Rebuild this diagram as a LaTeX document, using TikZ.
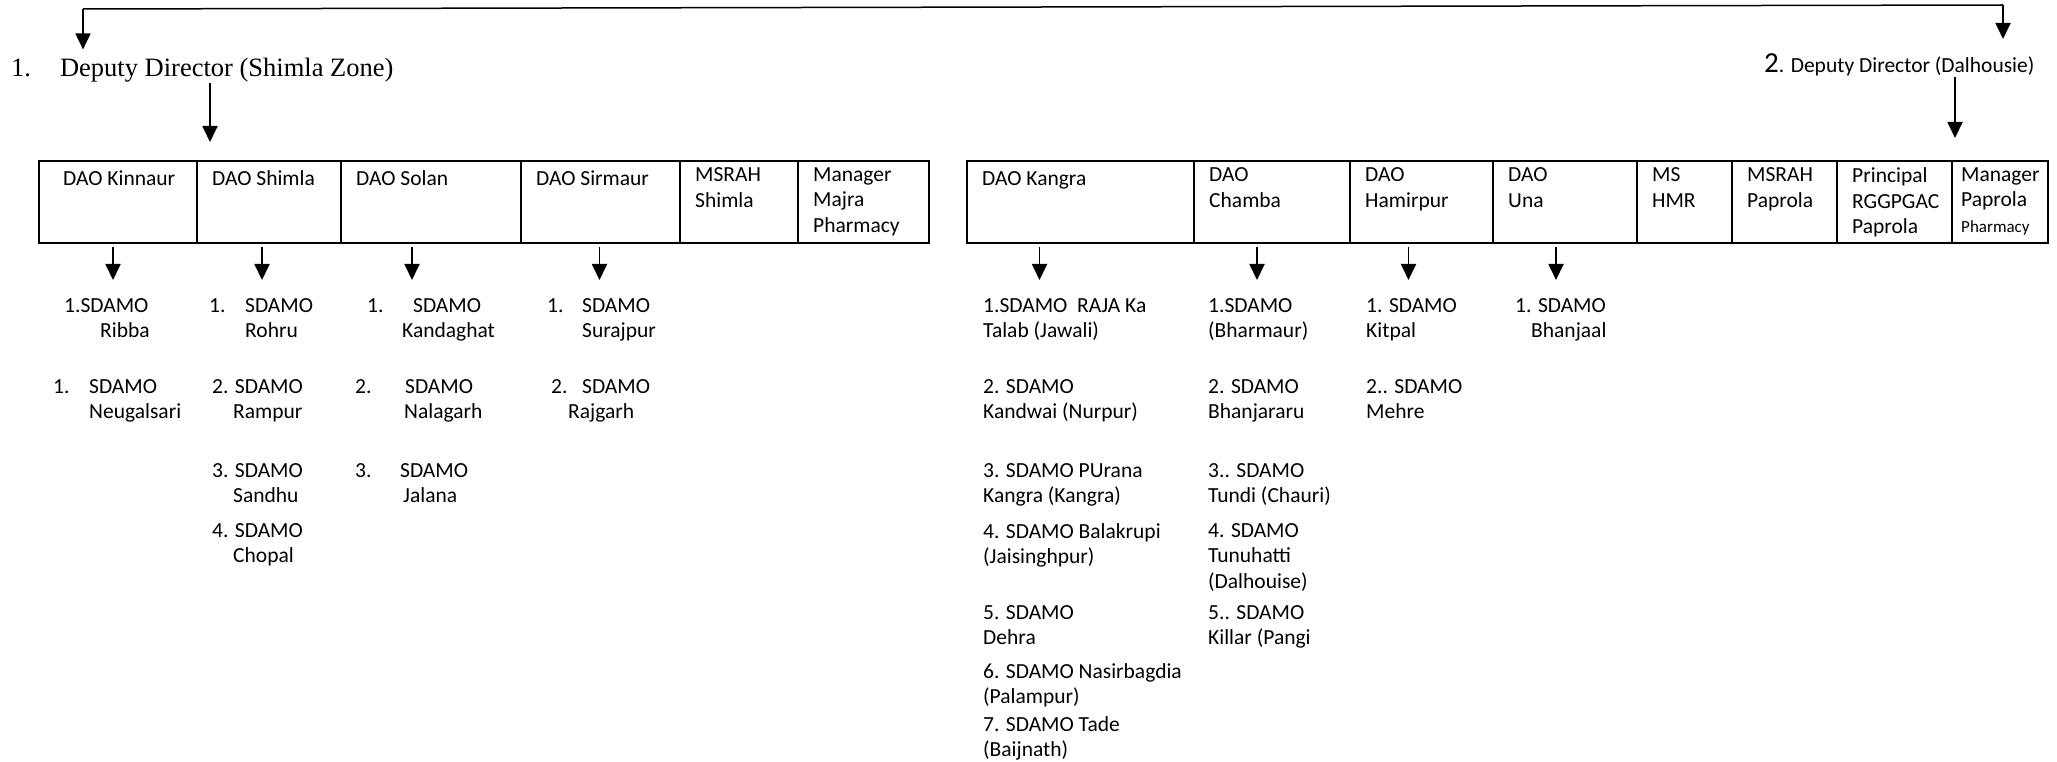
\documentclass[tikz,border=0pt]{standalone}
\usepackage{fontspec}
\setmainfont{Carlito}
\newfontfamily\timesfont{Liberation Serif}
\usetikzlibrary{positioning,arrows.meta}

\tikzset{
    cell/.style = {draw, line width=1.5pt, minimum height=82pt, inner sep=0pt, outer sep=0pt},
    celltxt/.style = {anchor=north west, align=left, inner sep=0pt, xshift=15pt, yshift=-6.5pt,
        execute at begin node={\rule{0pt}{18pt}}, font=\fontsize{21.5}{25.5}\selectfont},
    item/.style = {anchor=north west, align=left, inner sep=0pt, yshift=14pt,
        execute at begin node={\rule{0pt}{18pt}}, font=\fontsize{21.5}{25.5}\selectfont},
    arr/.style = {-{Triangle[length=16pt,width=15pt]}, line width=1.8pt}
}

\begin{document}
\begin{tikzpicture}[x=1pt, y=-1pt]
    \useasboundingbox (0,0) rectangle (2057,762);

    % deputy directors
    \node[anchor=base west, inner sep=0pt, font=\timesfont\fontsize{26.5}{26.5}\selectfont] (dd1) at (11,77) {1.\hspace{29pt}Deputy Director (Shimla Zone)};
    \node[anchor=base west, inner sep=0pt, font=\fontsize{21.5}{21.5}\selectfont] (dd2) at (1764,73) {{\fontsize{29}{29}\selectfont 2}. Deputy Director (Dalhousie)};

    \coordinate (topL) at (83,9);
    \coordinate (topR) at (2003,5);
    \draw[line width=1.5pt] (topL) -- (topR);
    \draw[arr, shorten >=9pt] (topL) -- (topL |- dd1.north);
    \draw[arr, shorten >=15pt] (topR) -- (topR |- dd2.north);

    % Shimla zone
    \node[cell, minimum width=158pt, anchor=north west, label={[celltxt, xshift=9pt]north west:DAO Kinnaur}] (kin) at (39,161) {};
    \node[cell, minimum width=144pt, right=0pt of kin, label={[celltxt]north west:DAO Shimla}] (shm) {};
    \node[cell, minimum width=180pt, right=0pt of shm, label={[celltxt]north west:DAO Solan}] (sol) {};
    \node[cell, minimum width=159pt, right=0pt of sol, label={[celltxt]north west:DAO Sirmaur}] (sir) {};
    \node[cell, minimum width=118pt, right=0pt of sir, label={[celltxt]north west:{MSRAH\\Shimla}}] (msr) {};
    \node[cell, minimum width=131pt, right=0pt of msr, label={[celltxt]north west:{Manager\\Majra\\Pharmacy}}] (mjp) {};

    \coordinate (dd1arr) at ([xshift=13pt,yshift=19pt]shm.north west);
    \draw[arr] (dd1.south -| dd1arr) -- (dd1arr);

    % Dalhousie zone
    \node[cell, minimum width=227pt, anchor=north west, label={[celltxt]north west:DAO Kangra}] (kng) at (967,161) {};
    \node[cell, minimum width=156pt, right=0pt of kng, label={[celltxt]north west:{DAO\\Chamba}}] (cha) {};
    \node[cell, minimum width=143pt, right=0pt of cha, label={[celltxt]north west:{DAO\\Hamirpur}}] (ham) {};
    \node[cell, minimum width=144pt, right=0pt of ham, label={[celltxt]north west:{DAO\\Una}}] (una) {};
    \node[cell, minimum width=95pt, right=0pt of una, label={[celltxt]north west:{MS\\HMR}}] (hmr) {};
    \node[cell, minimum width=105pt, right=0pt of hmr, label={[celltxt]north west:{MSRAH\\Paprola}}] (pap) {};
    \node[cell, minimum width=115pt, right=0pt of pap, label={[celltxt]north west:{Principal\\RGGPGAC\\Paprola}}] (rgg) {};
    \node[cell, minimum width=96pt, right=0pt of rgg, label={[celltxt, xshift=-6pt]north west:{Manager\\Paprola\\{\fontsize{17}{17}\selectfont Pharmacy}}}] (mpp) {};

    \coordinate (dd2arr) at ([xshift=3pt,yshift=23pt]mpp.north west);
    \draw[arr] (dd2.south -| dd2arr) -- (dd2arr);

    % arrows to the SDAMOs
    \draw[arr] ([xshift=-5pt,yshift=-4pt]kin.south) -- ([xshift=-5pt,yshift=-37pt]kin.south);
    \draw[arr] ([xshift=-7pt,yshift=-4pt]shm.south) -- ([xshift=-7pt,yshift=-37pt]shm.south);
    \draw[arr] ([xshift=-19pt,yshift=-4pt]sol.south) -- ([xshift=-19pt,yshift=-37pt]sol.south);
    \draw[arr] ([xshift=-1pt,yshift=-4pt]sir.south) -- ([xshift=-1pt,yshift=-37pt]sir.south);
    \draw[arr] ([xshift=-41pt,yshift=-4pt]kng.south) -- ([xshift=-41pt,yshift=-37pt]kng.south);
    \draw[arr] ([xshift=-15pt,yshift=-4pt]cha.south) -- ([xshift=-15pt,yshift=-37pt]cha.south);
    \draw[arr] ([xshift=-13pt,yshift=-4pt]ham.south) -- ([xshift=-13pt,yshift=-37pt]ham.south);
    \draw[arr] ([xshift=-9pt,yshift=-4pt]una.south) -- ([xshift=-9pt,yshift=-37pt]una.south);

    % SDAMOs, Shimla zone
    \node[item] (kin1) at (64,312) {1.SDAMO\\\hspace*{36pt}Ribba};
    \node[item] (kin2) at (53,393) {\makebox[36pt][l]{1.}SDAMO\\\hspace*{36pt}Neugalsari};
    \node[item] (shm1) at (209,312) {\makebox[36pt][l]{1.}SDAMO\\\hspace*{36pt}Rohru};
    \node[item] (shm2) at (212,393) {2. SDAMO\\\hspace*{21pt}Rampur};
    \node[item] (shm3) at (212,477) {3. SDAMO\\\hspace*{21pt}Sandhu};
    \node[item] (shm4) at (212,537) {4. SDAMO\\\hspace*{21pt}Chopal};
    \node[item] (sol1) at (367,312) {\makebox[46pt][l]{1.}SDAMO\\\hspace*{35pt}Kandaghat};
    \node[item] (sol2) at (355,393) {\makebox[50pt][l]{2.}SDAMO\\\hspace*{49pt}Nalagarh};
    \node[item] (sol3) at (355,477) {\makebox[45pt][l]{3.}SDAMO\\\hspace*{48pt}Jalana};
    \node[item] (sir1) at (547,312) {\makebox[35pt][l]{1.}SDAMO\\\hspace*{35pt}Surajpur};
    \node[item] (sir2) at (551,393) {\makebox[31pt][l]{2.}SDAMO\\\hspace*{17pt}Rajgarh};

    % SDAMOs, Dalhousie zone
    \node[item] (kng1) at (983,312) {1.SDAMO\ \ RAJA Ka\\Talab (Jawali)};
    \node[item] (kng2) at (983,393) {2. SDAMO\\Kandwai (Nurpur)};
    \node[item] (kng3) at (983,477) {3. SDAMO PUrana\\Kangra (Kangra)};
    \node[item] (kng4) at (983,537) {4. SDAMO Balakrupi\\(Jaisinghpur)};
    \node[item] (kng5) at (983,619) {5. SDAMO\\Dehra};
    \node[item] (kng6) at (983,677) {6. SDAMO Nasirbagdia\\(Palampur)};
    \node[item] (kng7) at (983,730) {7. SDAMO Tade\\(Baijnath)};
    \node[item] (cha1) at (1208,312) {1.SDAMO\\(Bharmaur)};
    \node[item] (cha2) at (1208,393) {2. SDAMO\\Bhanjararu};
    \node[item] (cha3) at (1208,477) {3.. SDAMO\\Tundi (Chauri)};
    \node[item] (cha4) at (1208,537) {4. SDAMO\\Tunuhatti\\(Dalhouise)};
    \node[item] (cha5) at (1208,619) {5.. SDAMO\\Killar (Pangi};
    \node[item] (ham1) at (1366,312) {1. SDAMO\\Kitpal};
    \node[item] (ham2) at (1366,393) {2.. SDAMO\\Mehre};
    \node[item] (una1) at (1515,312) {1. SDAMO\\\hspace*{16pt}Bhanjaal};
\end{tikzpicture}
\end{document}
